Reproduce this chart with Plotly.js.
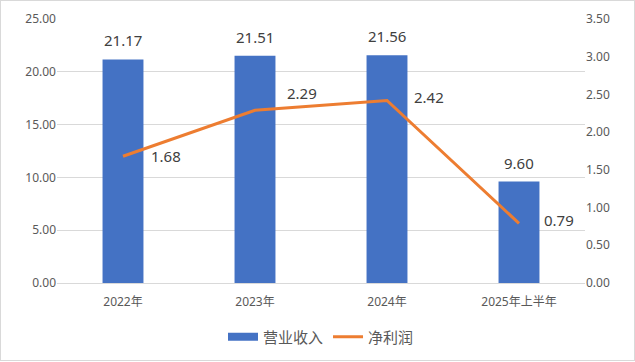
<!DOCTYPE html>
<html><head><meta charset="utf-8">
<script src="https://cdn.plot.ly/plotly-3.0.1.min.js"></script>
<style>html,body{margin:0;padding:0;background:#fff}#c{width:635px;height:361px;box-sizing:border-box;border:1px solid #d9d9d9}</style>
</head><body><div id="c"></div>
<script>
const categories = ['2022年','2023年','2024年','2025年上半年'];
const revenue = [21.17, 21.51, 21.56, 9.60];
const profit = [1.68, 2.29, 2.42, 0.79];
const profitLabelShift = [[26,0],[30,17],[25,3],[23,3]];
const fontFam = 'Noto Sans, Noto Sans CJK SC, sans-serif';

const traces = [
  {type:'bar', name:'营业收入', x:categories, y:revenue, marker:{color:'#4472C4'}, width:0.31, yaxis:'y', hoverinfo:'none', showlegend:false},
  {type:'scatter', mode:'lines', name:'营业收入', x:[categories[0]], y:[null], yaxis:'y',
   line:{color:'#4472C4', width:8}, hoverinfo:'none', showlegend:true},
  {type:'scatter', mode:'lines', name:'净利润', x:categories, y:profit, yaxis:'y2',
   line:{color:'#ED7D31', width:3}, hoverinfo:'none'}
];
const labelFont = {size:15, color:'#404040', family:fontFam};
const annotations = categories.map((c,i)=>({x:c, y:revenue[i], xref:'x', yref:'y', text:revenue[i].toFixed(2),
  showarrow:false, yshift:19, font:labelFont}))
  .concat(categories.map((c,i)=>({x:c, y:profit[i], xref:'x', yref:'y2', text:profit[i].toFixed(2),
  showarrow:false, xanchor:'left', yanchor:'middle', xshift:profitLabelShift[i][0], yshift:profitLabelShift[i][1], font:labelFont})));
const layout = {
  width:633, height:359,
  margin:{l:56, r:49, t:18, b:77, autoexpand:false},
  paper_bgcolor:'#fff', plot_bgcolor:'#fff',
  font:{family:fontFam, color:'#595959'},
  xaxis:{type:'category', showgrid:false, zeroline:false, showline:true, linecolor:'#d9d9d9', linewidth:1,
    ticks:'outside', ticklen:8, tickcolor:'rgba(0,0,0,0)', tickfont:{size:12, color:'#595959'}},
  yaxis:{range:[0,25], dtick:5, tickformat:'.2f', gridcolor:'#d9d9d9', zeroline:false, showline:false,
    ticks:'', tickfont:{size:12, color:'#595959'}, automargin:false},
  yaxis2:{range:[0,3.5], dtick:0.5, tickformat:'.2f', overlaying:'y', side:'right', showgrid:false, zeroline:false,
    showline:false, ticks:'', tickfont:{size:12, color:'#595959'}, automargin:false},
  showlegend:true,
  legend:{orientation:'h', x:0.5, xanchor:'center', y:-0.205, yanchor:'middle', itemwidth:30,
    font:{size:15, color:'#595959', family:fontFam}},
  annotations:annotations
};
Plotly.newPlot('c', traces, layout, {displayModeBar:false, staticPlot:true});
</script></body></html>
